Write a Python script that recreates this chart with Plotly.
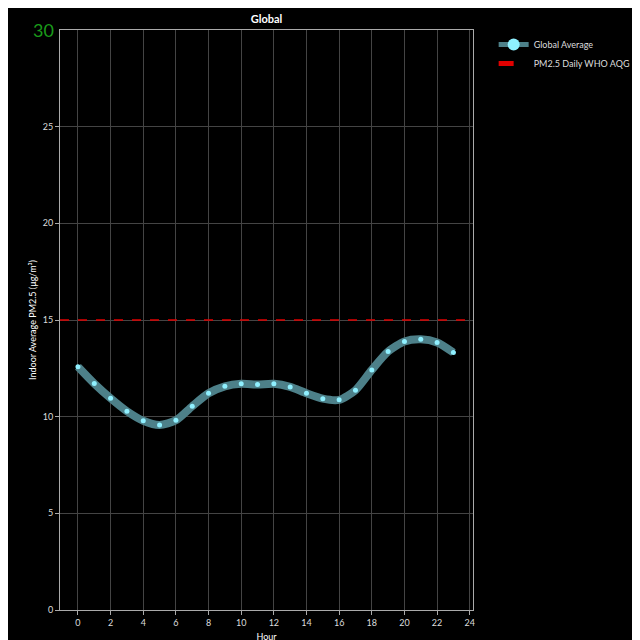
import plotly.graph_objects as go

hours = list(range(24))
pm25 = [12.58, 11.71, 10.95, 10.28, 9.79, 9.57, 9.81, 10.54, 11.21, 11.57, 11.70, 11.66,
        11.70, 11.54, 11.21, 10.93, 10.87, 11.37, 12.42, 13.37, 13.89, 14.00, 13.84, 13.32]
who_aqg = 15
y_ticks = [0, 5, 10, 15, 20, 25]
x_ticks = list(range(0, 25, 2))

fig = go.Figure()
fig.add_trace(go.Scatter(x=hours, y=pm25, mode="lines+markers",
                         line=dict(color="#4d8089", width=8, shape="spline", smoothing=0.7),
                         marker=dict(color="#8ff0ff", size=5), name="Global Average"))
fig.add_trace(go.Scatter(x=[-1.1, 24.2], y=[who_aqg, who_aqg], mode="lines",
                         line=dict(color="#e00000", width=1.5, dash="dash"), name="PM2.5 Daily WHO AQG"))

fig.add_annotation(x=0, xref="paper", y=30, yref="y", text="30", showarrow=False, xanchor="right",
                   xshift=-4, font=dict(color="#1a9a1a", size=18))

fig.update_layout(
    width=640, height=640, paper_bgcolor="black", plot_bgcolor="black",
    margin=dict(l=52, r=163, t=22, b=38),
    font=dict(family="Lato", color="white", size=10),
    title=dict(text="<b>Global</b>", x=0.5, xref="paper", xanchor="center", y=0.988, yanchor="top",
               font=dict(size=11, color="white")),
    legend=dict(x=1.05, y=1.0, xanchor="left", yanchor="top", bgcolor="rgba(0,0,0,0)",
                tracegroupgap=0, itemsizing="constant",
                font=dict(size=9, color="#dddddd")),
    xaxis=dict(range=[-1.1, 24.2], tickvals=x_ticks, showgrid=True, gridcolor="#444444", gridwidth=1,
               zeroline=False, showline=True, linecolor="#aaaaaa", mirror=True, ticks="outside",
               tickcolor="#aaaaaa", ticklen=4, automargin=False,
               title=dict(text="Hour", font=dict(size=9), standoff=6),
               tickfont=dict(size=9, color="#dddddd")),
    yaxis=dict(range=[0, 30], tickvals=y_ticks, showgrid=True, gridcolor="#444444", gridwidth=1,
               zeroline=False, showline=True, linecolor="#aaaaaa", mirror=True, ticks="outside",
               tickcolor="#aaaaaa", ticklen=4, automargin=False,
               title=dict(text="Indoor Average PM2.5 (μg/m³)", font=dict(size=9), standoff=4),
               tickfont=dict(size=9, color="#dddddd")),
)
fig.write_html("out.html")
